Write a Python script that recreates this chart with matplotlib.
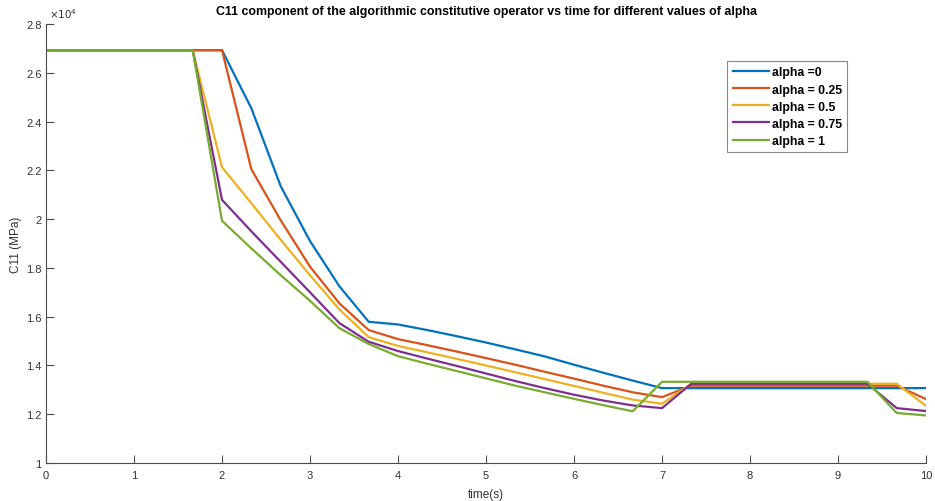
import matplotlib.pyplot as plt
from matplotlib.ticker import FuncFormatter

plt.rcParams['font.family'] = ['Liberation Sans', 'DejaVu Sans']

# time steps (s)
time = [0.0, 0.333, 0.667, 1.0, 1.333, 1.667, 2.0, 2.333, 2.667, 3.0,
        3.333, 3.667, 4.0, 4.333, 4.667, 5.0, 5.333, 5.667, 6.0, 6.333,
        6.667, 7.0, 7.333, 7.667, 8.0, 8.333, 8.667, 9.0, 9.333, 9.667,
        10.0]

# C11 (MPa) for each alpha
c11_a0 = [26926, 26926, 26926, 26926, 26926, 26926, 26926, 24550, 21350,
          19100, 17250, 15790, 15680, 15450, 15200, 14940, 14660, 14370,
          14030, 13700, 13380, 13070, 13070, 13070, 13070, 13070, 13070,
          13070, 13070, 13070, 13070]
c11_a025 = [26926, 26926, 26926, 26926, 26926, 26926, 26926, 22050, 19950,
            18050, 16550, 15450, 15080, 14830, 14570, 14300, 14030, 13740,
            13460, 13170, 12900, 12700, 13170, 13170, 13170, 13170, 13170,
            13170, 13170, 13170, 12620]
c11_a05 = [26926, 26926, 26926, 26926, 26926, 26926, 22130, 20650, 19150,
           17700, 16300, 15160, 14800, 14540, 14270, 14000, 13720, 13440,
           13160, 12880, 12600, 12430, 13250, 13250, 13250, 13250, 13250,
           13250, 13250, 13250, 12340]
c11_a075 = [26926, 26926, 26926, 26926, 26926, 26926, 20790, 19500, 18250,
            17000, 15740, 14970, 14590, 14280, 13980, 13670, 13360, 13070,
            12800, 12560, 12360, 12250, 13250, 13250, 13250, 13250, 13250,
            13250, 13250, 12250, 12130]
c11_a1 = [26926, 26926, 26926, 26926, 26926, 26926, 19930, 18800, 17700,
          16650, 15530, 14880, 14380, 14070, 13770, 13470, 13170, 12900,
          12630, 12370, 12120, 13330, 13330, 13330, 13330, 13330, 13330,
          13330, 13330, 12050, 11950]

series = [c11_a0, c11_a025, c11_a05, c11_a075, c11_a1]
labels = ["alpha =0", "alpha = 0.25", "alpha = 0.5", "alpha = 0.75",
          "alpha = 1"]
colours = ["#0072BD", "#D95319", "#EDB120", "#7E2F8E", "#77AC30"]

fig = plt.figure(figsize=(9.35, 5.02), dpi=100)
ax = fig.add_axes([0.0492, 0.0757, 0.9412, 0.8745])

for vals, lab, col in zip(series, labels, colours):
    ax.plot(time, vals, color=col, lw=1.6, label=lab)

ax.set_xlim(0, 10)
ax.set_ylim(10000, 28000)
ax.set_xticks(range(0, 11))
ax.set_yticks([10000 + 2000 * i for i in range(10)])
ax.yaxis.set_major_formatter(FuncFormatter(lambda v, p: "%g" % (v / 1e4)))

for s in ["top", "right"]:
    ax.spines[s].set_visible(False)
for s in ["left", "bottom"]:
    ax.spines[s].set_color("#4d4d4d")
    ax.spines[s].set_linewidth(0.8)
ax.tick_params(direction="in", length=6, width=0.8, colors="#4d4d4d",
               labelsize=8, labelcolor="#333333")
ax.tick_params(axis="x", pad=5)
ax.tick_params(axis="y", pad=3)

ax.text(0.003, 1.008, r"$\times10^{4}$", transform=ax.transAxes,
        fontsize=7.5, color="#333333", va="bottom", ha="left")

ax.set_title("C11 component of the algorithmic constitutive operator vs time "
             "for different values of alpha", fontsize=8.9, fontweight="bold",
             pad=7)
ax.set_xlabel("time(s)", fontsize=8.5, color="#333333", labelpad=6)
ax.set_ylabel("C11 (MPa)", fontsize=8.5, color="#333333")
ax.yaxis.set_label_coords(-0.027, 0.5)

leg = ax.legend(loc="upper left", bbox_to_anchor=(0.774, 0.916),
                prop={"weight": "bold", "size": 8.8}, fancybox=False,
                framealpha=1, edgecolor="#888888", handlelength=3.0,
                handletextpad=0.2, labelspacing=0.42, borderpad=0.45,
                borderaxespad=0)
leg.get_frame().set_linewidth(0.8)

fig.savefig("out.png", dpi=100)
